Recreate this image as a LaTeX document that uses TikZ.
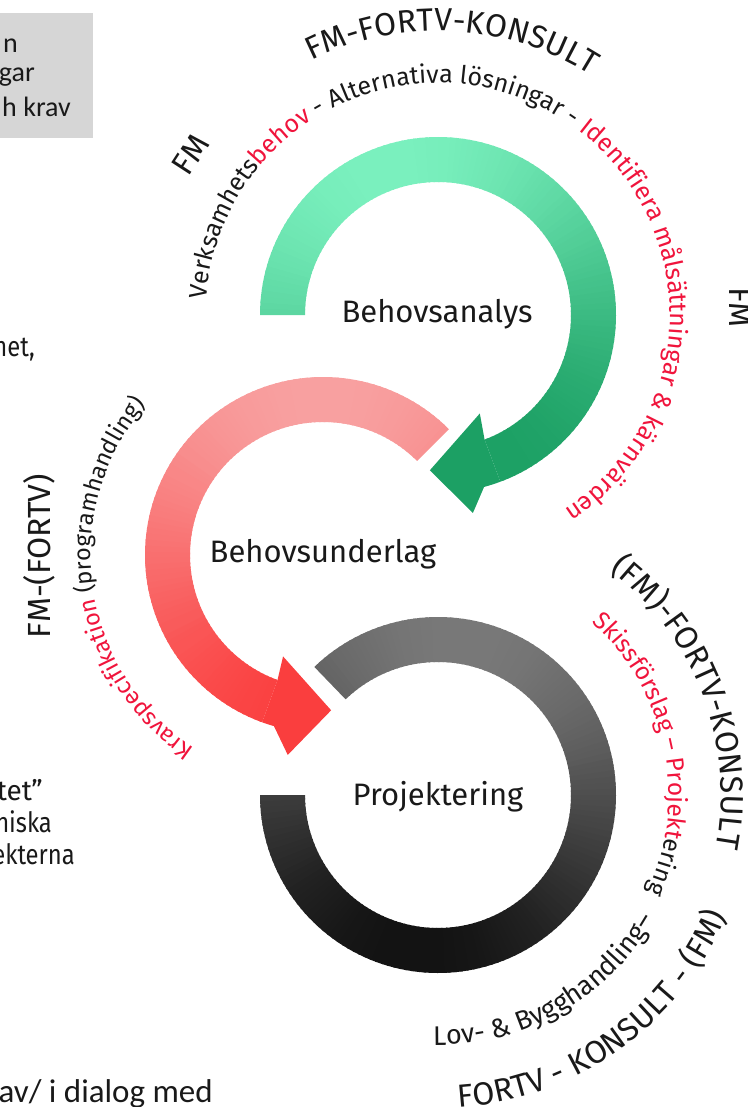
\documentclass[tikz,border=0pt]{standalone}
\usepackage{fontspec}
\setmainfont{Fira Sans}
\newfontfamily\carl{Carlito}
\newfontfamily\narrowf[FakeStretch=0.85]{Fira Sans}
\usetikzlibrary{decorations.text}
\definecolor{glight}{RGB}{122,240,190}
\definecolor{gdark}{RGB}{28,160,100}
\definecolor{rlight}{RGB}{248,160,160}
\definecolor{rdark}{RGB}{250,62,62}
\definecolor{klight}{RGB}{120,120,120}
\definecolor{kdark}{RGB}{18,18,18}
\definecolor{txtred}{RGB}{240,20,60}
\definecolor{boxgray}{RGB}{214,214,214}
\definecolor{ink}{RGB}{25,25,25}
\newcommand\rfg{\fontsize{25}{25}\selectfont}
\newcommand\rfr{\fontsize{23.5}{23.5}\selectfont}
\newcommand\rfk{\fontsize{24.5}{24.5}\selectfont}
\newcommand\rfl{\fontsize{27}{27}\selectfont}
\newcommand\of{\fontsize{32}{32}\selectfont}
\begin{document}
\begin{tikzpicture}[x=1pt,y=1pt,
  lbl/.style={font=\fontsize{31}{31}\selectfont, text=ink, inner sep=0pt, anchor=base},
  outer/.style={font=\of, text=ink, inner sep=0pt},
  frag/.style={font=\narrowf\fontsize{28}{28}\selectfont, text=ink, inner sep=0pt, anchor=base east},
  boxtxt/.style={font=\carl\fontsize{28}{28}\selectfont, text=ink, inner sep=0pt, anchor=base east},
  arc text/.style={decorate, decoration={text along path, text align=center, text={#1}}}]
\useasboundingbox (0,0) rectangle (747,-1107);
\clip (0,0) rectangle (747,-1107);

% grey box top left
\fill[boxgray] (0,-13) rectangle (93,-138);
\node[boxtxt] (b1) at (18,-53) {n};
\node[boxtxt] (b2) at (35,-82) {gar};
\node[boxtxt] (b3) at (71,-117) {h krav};

% left fragments
\node[frag] (f1) at (35,-356) {het,};
\node[frag, font=\fontsize{28}{28}\selectfont] (f2) at (43,-800) {tet”};
\node[frag] (f3) at (52,-832) {niska};
\node[frag] (f4) at (75,-864) {ekterna};
\node[boxtxt, font=\carl\fontsize{33}{33}\selectfont] (f5) at (213,-1102) {av/ i dialog med};
\node[outer, rotate=90] (fmfortv) at (39,-556) {FM-(FORTV)};
\node[outer, rotate=-90] (fmR) at (741,-307) {FM};

% ---------- green ring: Behovsanalys ----------
\begin{scope}[shift={(438,-315)}]
  \foreach \ang in {180,178,...,-68}{
    \pgfmathsetmacro\angb{max(\ang-2.7,-69.5)}
    \pgfmathtruncatemacro\pc{50*(1+cos(\ang-1+70))}
    \fill[gdark!\pc!glight] (\ang:178) arc[start angle=\ang,end angle=\angb,radius=178]
      -- (\angb:133) arc[start angle=\angb,end angle=\ang,radius=133] -- cycle;
  }
  \fill[gdark] (-69.5:133) -- (-69.5:178) arc[start angle=-69.5,end angle=-75,radius=178]
    -- (-80:201) -- (-93:155.5) -- (-67:107) -- cycle;
  \path[arc text={|\rfg\color{ink}|Verksamhets|\rfg\color{txtred}|behov|\rfg\color{ink}| - Alternativa lösningar - |\rfg\color{txtred}|Identifiera målsättningar {\&} kärnvärden}]
    (188:232) arc[start angle=188,end angle=-69,radius=232];
  \path[arc text={|\of\color{ink}|FM-FORTV-KONSULT}]
    (122:284) arc[start angle=122,end angle=52,radius=284];
  \node[outer, rotate=57] (fmL) at (147:295) {FM};
\end{scope}

% ---------- red ring: Behovsunderlag ----------
\begin{scope}[shift={(323,-555)}]
  \foreach \ang in {45,47,...,249}{
    \pgfmathsetmacro\angb{min(\ang+2.7,250)}
    \pgfmathtruncatemacro\pc{50*(1+cos(\ang+1+90))}
    \fill[rdark!\pc!rlight] (\ang:178) arc[start angle=\ang,end angle=\angb,radius=178]
      -- (\angb:133) arc[start angle=\angb,end angle=\ang,radius=133] -- cycle;
  }
  \fill[rdark] (250:133) -- (250:178) arc[start angle=250,end angle=254,radius=178]
    -- (260:203) -- (273:155.5) -- (248.5:109) -- cycle;
  \path[arc text={|\rfr\color{txtred}|Kravspecifikation|\rfr\color{ink}| (programhandling)}]
    (246:232) arc[start angle=246,end angle=130,radius=232];
\end{scope}

% ---------- grey ring: Projektering ----------
\begin{scope}[shift={(438,-795)}]
  \foreach \ang in {134,132,...,-178}{
    \pgfmathsetmacro\angb{max(\ang-2.7,-180)}
    \pgfmathtruncatemacro\pc{50*(1+cos(\ang-1+100))}
    \fill[kdark!\pc!klight] (\ang:178) arc[start angle=\ang,end angle=\angb,radius=178]
      -- (\angb:133) arc[start angle=\angb,end angle=\ang,radius=133] -- cycle;
  }
  \path[arc text={|\of\color{ink}|(FM)-FORTV-KONSULT}]
    (60:283) arc[start angle=60,end angle=-18,radius=283];
  \path[arc text={|\rfk\color{txtred}|Skissförslag – Projekt|\rfk\color{ink}|ering}]
    (56:231) arc[start angle=56,end angle=-32.4,radius=231];
  \path[arc text={|\rfl\color{ink}|Lov- {\&} Bygghandling–}]
    (-96.5:250) arc[start angle=-96.5,end angle=-24.5,radius=250];
  \path[arc text={|\of\color{ink}|FORTV - KONSULT - (FM)}]
    (-95.5:313) arc[start angle=-95.5,end angle=-13.5,radius=313];
\end{scope}

% centre labels
\node[lbl] (ba) at (437,-322) {Behovsanalys};
\node[lbl] (bu) at (323,-562) {Behovsunderlag};
\node[lbl] (pj) at (438,-805) {Projektering};
\end{tikzpicture}
\end{document}
